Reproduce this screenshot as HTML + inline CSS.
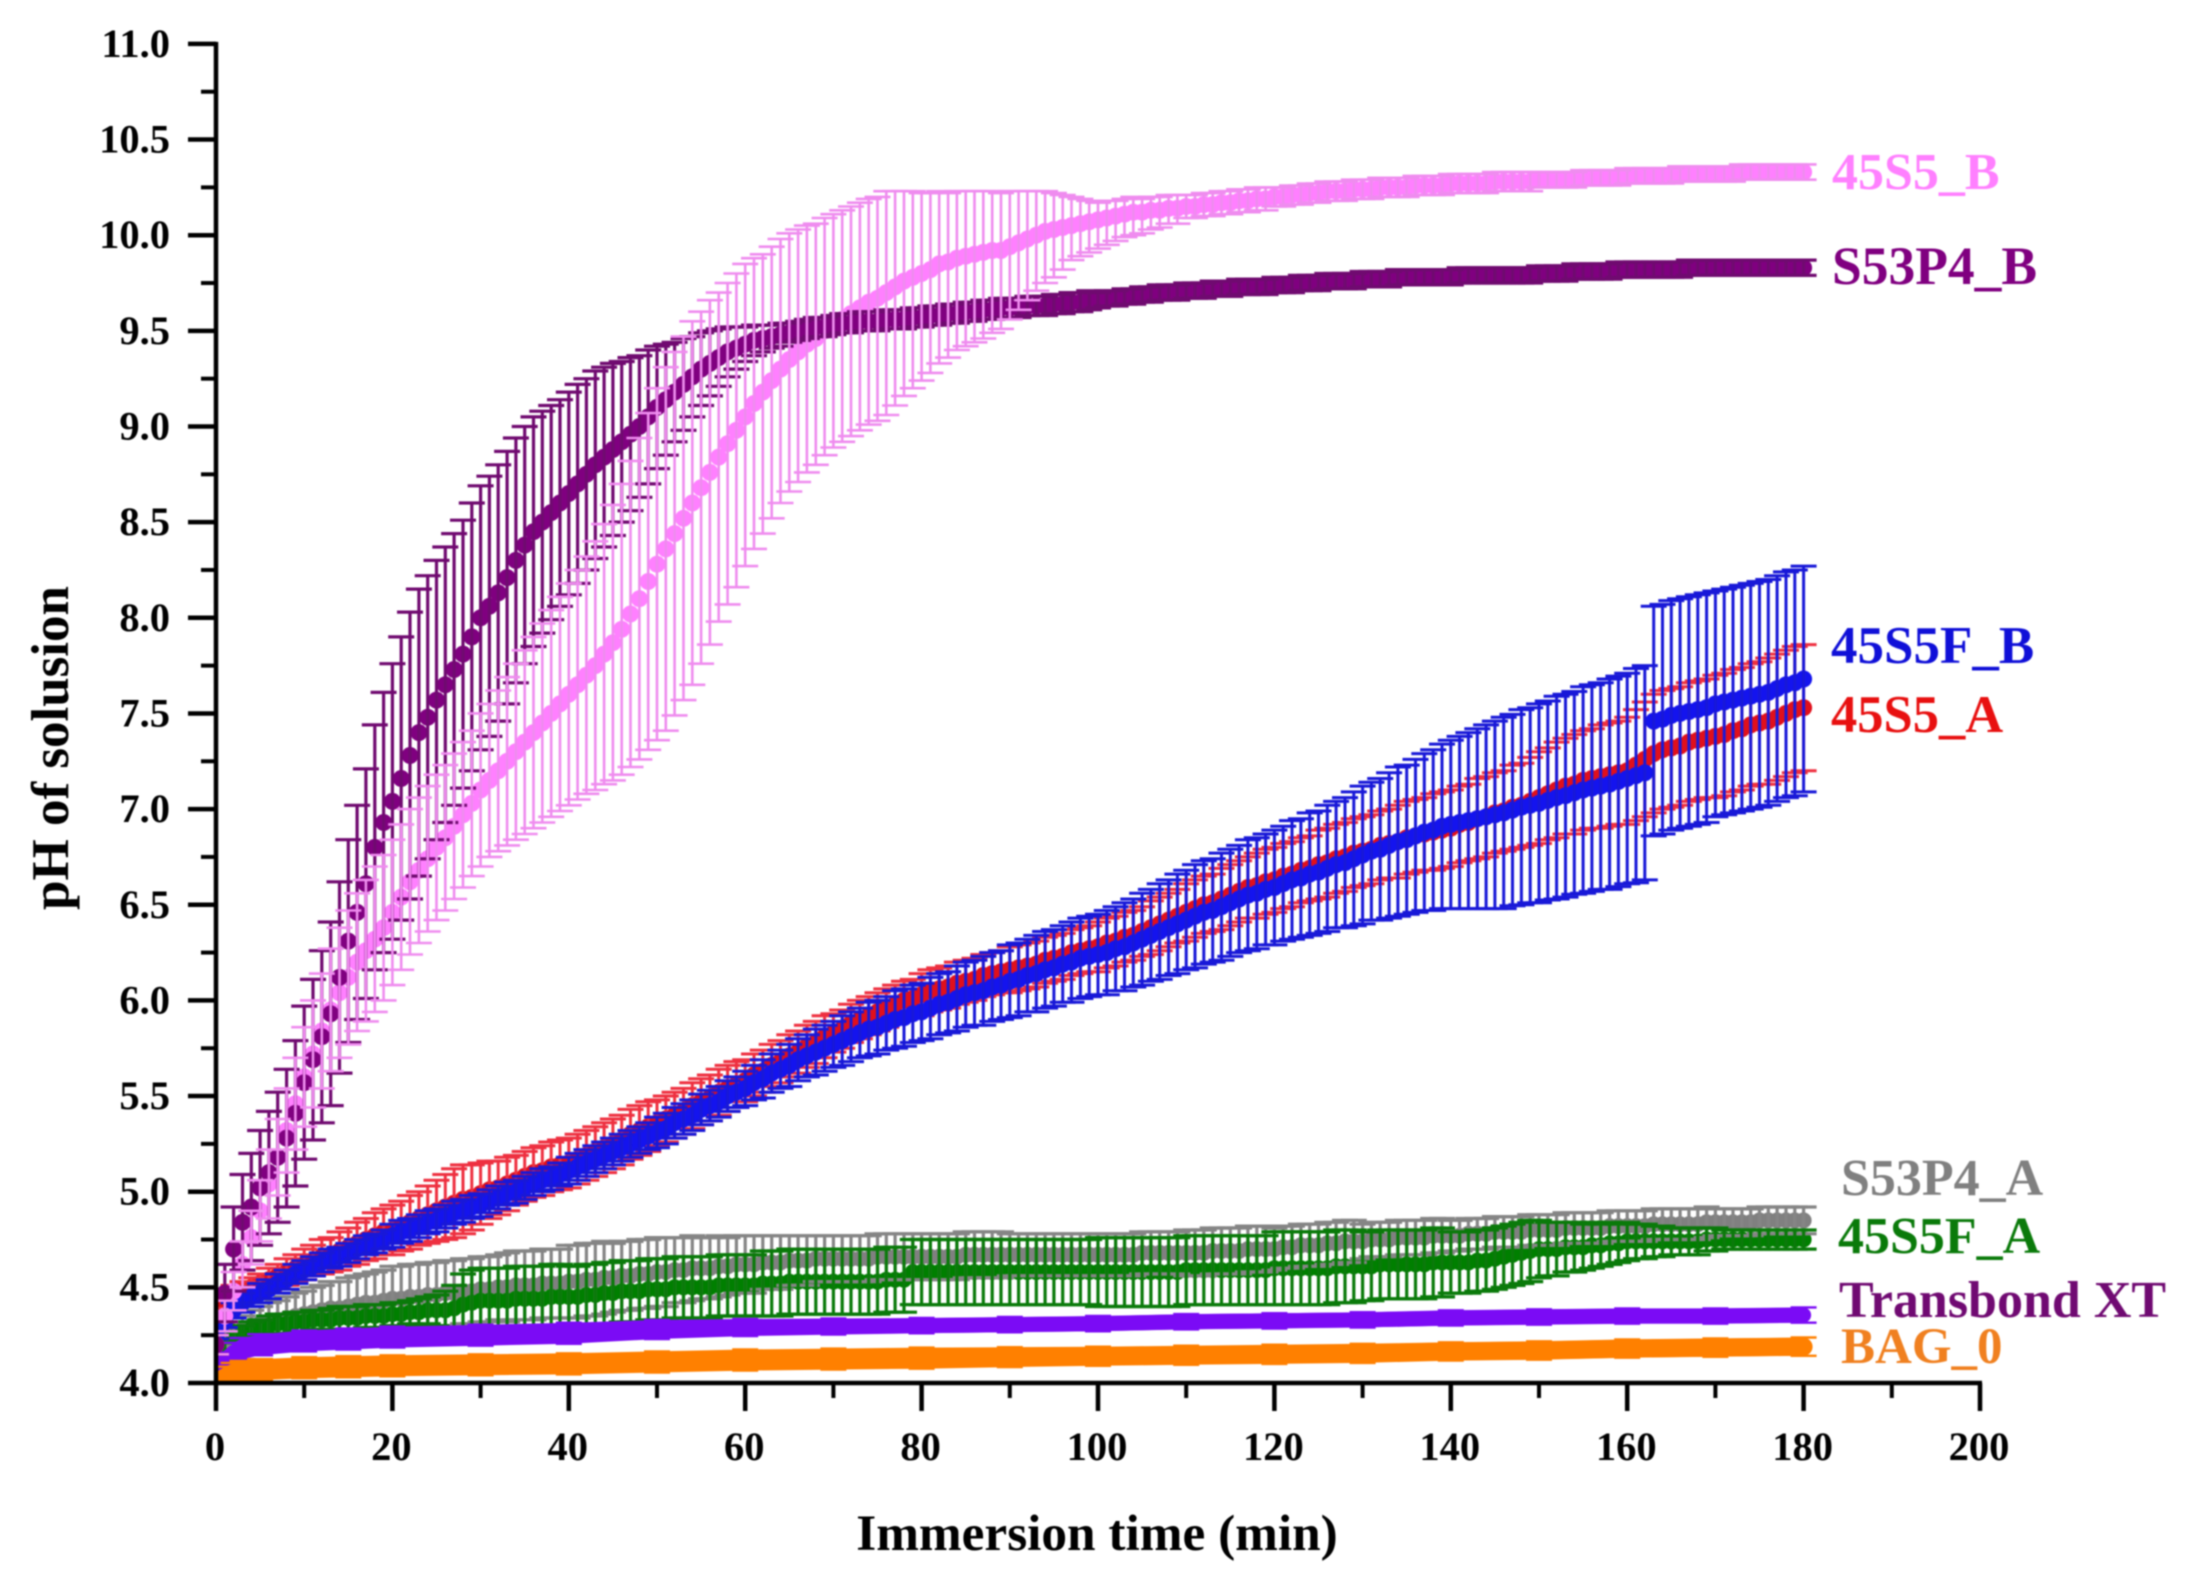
<!DOCTYPE html>
<html lang="en">
<head>
<meta charset="utf-8">
<title>pH of solution vs immersion time</title>
<style>
html,body{margin:0;padding:0;background:#fff;width:2185px;height:1577px;overflow:hidden}
svg{display:block;filter:blur(0.7px)}
text{font-family:"Liberation Serif",serif;font-weight:bold}
</style>
</head>
<body>
<svg id="chart" width="2185" height="1577" viewBox="0 0 2185 1577" xmlns="http://www.w3.org/2000/svg">
<defs><clipPath id="plot-clip"><rect x="216" y="0" width="1969" height="1383"/></clipPath></defs>
<rect width="2185" height="1577" fill="#fff"/>
<g id="plot" clip-path="url(#plot-clip)"></g>
<g id="axes"></g>
<text x="1097" y="1550" text-anchor="middle" font-size="51.3" fill="#000">Immersion time (min)</text>
<text transform="translate(68,748) rotate(-90)" text-anchor="middle" font-size="53" fill="#000">pH of solusion</text>
<text x="1832" y="189" font-size="52" fill="#ff80ff">45S5_B</text>
<text x="1832" y="284" font-size="53.5" fill="#800080">S53P4_B</text>
<text x="1831" y="663" font-size="53" fill="#1010d8">45S5F_B</text>
<text x="1831" y="732" font-size="52.5" fill="#e81010">45S5_A</text>
<text x="1841" y="1195" font-size="52" fill="#808080">S53P4_A</text>
<text x="1838" y="1253" font-size="52" fill="#0a7a0a">45S5F_A</text>
<text x="1839" y="1317" font-size="52" fill="#700a72">Transbond XT</text>
<text x="1841" y="1363" font-size="51" fill="#f08020">BAG_0</text>
</svg>
<script>
const minuteTimes = Array.from({length:181},(_,i)=>i);
const sparseTimes = [0,1,2,3,5,10,15,20,30,40,50,60,70,80,90,100,110,120,130,140,150,160,170,180];
const xTickLabels = [0,20,40,60,80,100,120,140,160,180,200];
const xMinorTicks = [10,30,50,70,90,110,130,150,170,190];
const yTickLabels = ["4.0","4.5","5.0","5.5","6.0","6.5","7.0","7.5","8.0","8.5","9.0","9.5","10.0","10.5","11.0"];
const yMinorTicks = [4.25,4.75,5.25,5.75,6.25,6.75,7.25,7.75,8.25,8.75,9.25,9.75,10.25,10.75];

const pinkMean = [4.20,4.35,4.48,4.62,4.76,4.90,5.04,5.18,5.32,5.46,
5.60,5.72,5.84,5.95,6.04,6.12,6.20,6.26,6.32,6.38,
6.46,6.54,6.62,6.68,6.74,6.80,6.85,6.91,6.97,7.03,
7.10,7.15,7.20,7.25,7.30,7.35,7.40,7.45,7.50,7.55,
7.60,7.65,7.70,7.75,7.81,7.87,7.94,8.02,8.10,8.19,
8.28,8.36,8.44,8.52,8.60,8.68,8.76,8.84,8.91,8.98,
9.05,9.12,9.18,9.24,9.30,9.35,9.39,9.43,9.46,9.50,
9.53,9.56,9.59,9.62,9.65,9.67,9.70,9.73,9.76,9.78,
9.80,9.82,9.85,9.86,9.88,9.89,9.90,9.91,9.92,9.92,
9.94,9.96,9.98,10.00,10.02,10.03,10.04,10.05,10.06,10.07,
10.08,10.09,10.10,10.11,10.12,10.12,10.13,10.13,10.14,10.14,
10.15,10.15,10.16,10.16,10.17,10.17,10.18,10.18,10.19,10.19,
10.20,10.20,10.21,10.21,10.22,10.22,10.23,10.23,10.23,10.24,
10.24,10.24,10.25,10.25,10.25,10.25,10.26,10.26,10.26,10.26,
10.27,10.27,10.27,10.27,10.27,10.28,10.28,10.28,10.28,10.28,
10.29,10.29,10.29,10.29,10.29,10.30,10.30,10.30,10.30,10.30,
10.31,10.31,10.31,10.31,10.31,10.31,10.32,10.32,10.32,10.32,
10.32,10.32,10.32,10.33,10.33,10.33,10.33,10.33,10.33,10.33,10.33];
const pinkErrUp = [.05,.08,.10,.12,.14,.16,.18,.20,.22,.24,
.26,.28,.30,.32,.34,.35,.36,.37,.38,.38,
.38,.38,.38,.38,.38,.38,.38,.38,.38,.38,
.40,.40,.42,.44,.46,.48,.50,.52,.54,.56,
.58,.60,.62,.65,.68,.72,.76,.80,.84,.88,
.92,.95,.95,.95,.95,.92,.90,.86,.84,.82,
.80,.76,.72,.70,.68,.66,.64,.62,.60,.59,
.58,.57,.56,.55,.54,.53,.53,.50,.47,.45,
.42,.40,.38,.36,.35,.34,.33,.32,.31,.30,
.29,.27,.25,.23,.21,.19,.17,.15,.13,.11,
.09,.09,.08,.08,.08,.07,.07,.07,.07,.07,
.06,.06,.06,.06,.06,.06,.06,.06,.06,.06,
.05,.05,.05,.05,.05,.05,.05,.05,.05,.05,
.05,.05,.05,.05,.05,.05,.05,.05,.05,.05,
.05,.05,.05,.05,.05,.05,.05,.05,.05,.05,
.04,.04,.04,.04,.04,.04,.04,.04,.04,.04,
.04,.04,.04,.04,.04,.04,.04,.04,.04,.04,
.04,.04,.04,.04,.04,.04,.04,.04,.04,.04,.04];
const pinkErrDownMiddle = [.78,.76,.74,.72,.70,.69,.68,.67,.66,.65,
.64,.64,.64,.64,.64,.64,.64,.62,.60,.58,
.56,.54,.52,.50,.48,.47,.46,.45,.43,.41,
.38,.35,.32,.29,.27,.25,.22,.18,.17,.16,
.15,.14,.13,.12,.12,.11,.10,.09,.08,.08];
const pinkErrDown = [...pinkErrUp.slice(0,60),...pinkErrDownMiddle,...pinkErrUp.slice(110)];

const purpleMean = [4.20,4.47,4.70,4.84,4.92,5.02,5.10,5.18,5.28,5.41,
5.57,5.69,5.81,5.93,6.12,6.31,6.46,6.61,6.80,6.93,
7.04,7.16,7.28,7.40,7.48,7.57,7.65,7.73,7.81,7.90,
8.00,8.06,8.13,8.21,8.30,8.38,8.45,8.50,8.55,8.60,
8.65,8.70,8.75,8.80,8.84,8.88,8.92,8.96,9.00,9.05,
9.10,9.14,9.18,9.22,9.26,9.30,9.33,9.36,9.39,9.41,
9.43,9.45,9.46,9.47,9.48,9.49,9.50,9.51,9.52,9.52,
9.53,9.54,9.54,9.55,9.55,9.55,9.56,9.56,9.56,9.57,
9.57,9.58,9.58,9.59,9.59,9.60,9.60,9.61,9.61,9.62,
9.62,9.62,9.63,9.63,9.63,9.64,9.64,9.65,9.65,9.66,
9.66,9.67,9.67,9.68,9.68,9.69,9.69,9.70,9.70,9.70,
9.71,9.71,9.71,9.72,9.72,9.72,9.73,9.73,9.73,9.73,
9.74,9.74,9.74,9.75,9.75,9.75,9.76,9.76,9.76,9.76,
9.77,9.77,9.77,9.77,9.78,9.78,9.78,9.78,9.78,9.78,
9.78,9.79,9.79,9.79,9.79,9.79,9.79,9.79,9.79,9.79,
9.80,9.80,9.80,9.80,9.81,9.81,9.81,9.81,9.81,9.82,
9.82,9.82,9.82,9.82,9.82,9.82,9.82,9.83,9.83,9.83,
9.83,9.83,9.83,9.83,9.83,9.83,9.83,9.83,9.83,9.83,9.83];
const purpleErr = [.05,.15,.22,.25,.28,.30,.32,.34,.36,.38,
.40,.42,.45,.48,.50,.53,.56,.60,.64,.68,
.72,.74,.75,.75,.74,.73,.72,.71,.70,.70,
.69,.68,.67,.66,.64,.62,.60,.58,.56,.54,
.53,.52,.50,.49,.47,.45,.42,.40,.37,.35,
.32,.29,.26,.24,.21,.19,.17,.15,.13,.11,
.09,.08,.07,.06,.06,.05,.05,.05,.05,.05,
.05,.05,.05,.05,.05,.05,.05,.05,.05,.05,
.05,.05,.05,.05,.05,.05,.05,.05,.05,.05,
.05,.05,.05,.05,.05,.05,.05,.05,.05,.05,
.04,.04,.04,.04,.04,.04,.04,.04,.04,.04,
.04,.04,.04,.04,.04,.04,.04,.04,.04,.04,
.04,.04,.04,.04,.04,.04,.04,.04,.04,.04,
.04,.04,.04,.04,.04,.04,.04,.04,.04,.04,
.04,.04,.04,.04,.04,.04,.04,.04,.04,.04,
.04,.04,.04,.04,.04,.04,.04,.04,.04,.04,
.04,.04,.04,.04,.04,.04,.04,.04,.04,.04,
.04,.04,.04,.04,.04,.04,.04,.04,.04,.04,.04];

const blueMean = [4.25,4.32,4.38,4.42,4.45,4.47,4.49,4.52,4.54,4.57,
4.59,4.61,4.63,4.65,4.66,4.68,4.70,4.72,4.73,4.75,
4.77,4.79,4.80,4.82,4.84,4.85,4.87,4.89,4.90,4.92,
4.93,4.95,4.97,4.99,5.00,5.02,5.04,5.06,5.07,5.09,
5.11,5.13,5.15,5.17,5.19,5.21,5.23,5.25,5.27,5.29,
5.31,5.33,5.36,5.38,5.40,5.43,5.45,5.47,5.50,5.52,
5.54,5.57,5.59,5.62,5.64,5.66,5.69,5.71,5.73,5.75,
5.77,5.79,5.81,5.83,5.85,5.86,5.88,5.90,5.91,5.93,
5.94,5.96,5.98,5.99,6.01,6.03,6.04,6.05,6.07,6.08,
6.10,6.11,6.13,6.14,6.16,6.17,6.19,6.20,6.22,6.23,
6.24,6.25,6.27,6.28,6.30,6.32,6.34,6.36,6.38,6.40,
6.42,6.44,6.46,6.47,6.49,6.51,6.53,6.55,6.56,6.58,
6.59,6.61,6.63,6.64,6.66,6.67,6.69,6.71,6.72,6.74,
6.76,6.78,6.79,6.81,6.83,6.84,6.86,6.88,6.89,6.91,
6.92,6.93,6.94,6.95,6.96,6.97,6.98,6.995,7.01,7.02,
7.03,7.045,7.06,7.07,7.085,7.10,7.11,7.12,7.13,7.145,
7.16,7.175,7.19,7.46,7.47,7.49,7.50,7.51,7.52,7.53,
7.55,7.56,7.57,7.58,7.59,7.60,7.61,7.63,7.65,7.66,7.68];
const blueErr = [.02,.03,.04,.05,.05,.05,.05,.05,.05,.05,
.05,.05,.05,.05,.05,.05,.05,.05,.05,.05,
.06,.06,.06,.06,.06,.06,.06,.06,.06,.06,
.06,.06,.06,.06,.06,.06,.06,.06,.06,.06,
.07,.07,.07,.07,.07,.07,.07,.07,.07,.07,
.08,.08,.08,.08,.08,.08,.08,.08,.08,.08,
.09,.09,.10,.10,.10,.11,.11,.11,.12,.12,
.12,.13,.13,.13,.14,.14,.14,.15,.15,.15,
.15,.16,.16,.16,.17,.17,.17,.18,.18,.18,
.19,.19,.19,.20,.20,.20,.20,.21,.21,.21,
.21,.22,.22,.23,.23,.24,.24,.25,.25,.26,
.26,.27,.27,.27,.28,.28,.28,.29,.29,.29,
.30,.30,.31,.31,.32,.32,.33,.33,.34,.35,
.36,.36,.37,.38,.39,.39,.40,.41,.42,.43,
.44,.45,.46,.47,.48,.49,.50,.50,.51,.51,
.52,.52,.53,.53,.53,.54,.54,.54,.55,.55,
.55,.56,.56,.60,.60,.60,.60,.60,.60,.60,
.59,.59,.59,.59,.59,.59,.59,.59,.59,.59,.59];

const redMean = [4.30,4.42,4.47,4.49,4.50,4.52,4.54,4.56,4.58,4.60,
4.62,4.64,4.66,4.67,4.69,4.71,4.73,4.75,4.77,4.79,
4.80,4.82,4.84,4.86,4.88,4.90,4.92,4.94,4.96,4.97,
4.99,5.01,5.02,5.04,5.06,5.08,5.10,5.11,5.13,5.14,
5.15,5.17,5.19,5.21,5.23,5.25,5.27,5.30,5.32,5.34,
5.36,5.38,5.40,5.42,5.45,5.47,5.49,5.52,5.54,5.56,
5.58,5.61,5.63,5.66,5.68,5.71,5.73,5.76,5.78,5.81,
5.83,5.85,5.88,5.90,5.92,5.94,5.96,5.98,6.00,6.01,
6.03,6.05,6.06,6.07,6.09,6.10,6.11,6.13,6.14,6.15,
6.16,6.17,6.18,6.19,6.21,6.22,6.23,6.25,6.26,6.27,
6.28,6.30,6.31,6.33,6.34,6.36,6.38,6.40,6.42,6.44,
6.46,6.48,6.50,6.51,6.53,6.55,6.57,6.59,6.60,6.62,
6.63,6.65,6.66,6.68,6.69,6.71,6.72,6.74,6.75,6.77,
6.78,6.79,6.81,6.82,6.83,6.85,6.86,6.87,6.88,6.89,
6.90,6.92,6.93,6.95,6.96,6.98,6.99,7.01,7.02,7.04,
7.06,7.08,7.10,7.12,7.13,7.15,7.16,7.17,7.18,7.19,
7.20,7.23,7.26,7.29,7.31,7.32,7.33,7.35,7.36,7.37,
7.38,7.39,7.41,7.42,7.44,7.45,7.46,7.48,7.50,7.52,7.53];
const redErr = [.02,.03,.04,.04,.05,.05,.06,.06,.07,.07,
.08,.08,.09,.09,.10,.10,.11,.11,.12,.12,
.13,.13,.14,.14,.15,.16,.17,.18,.18,.17,
.16,.15,.14,.14,.13,.13,.13,.13,.13,.13,
.13,.13,.13,.13,.13,.13,.13,.13,.13,.13,
.12,.12,.12,.12,.12,.12,.12,.12,.12,.12,
.11,.11,.11,.11,.11,.11,.11,.11,.11,.11,
.10,.10,.10,.10,.10,.10,.10,.10,.10,.10,
.11,.11,.11,.11,.11,.11,.11,.11,.11,.11,
.12,.12,.12,.12,.12,.12,.12,.12,.12,.12,
.13,.13,.13,.13,.13,.13,.14,.14,.14,.14,
.15,.15,.15,.15,.16,.16,.16,.16,.17,.17,
.17,.17,.17,.17,.17,.18,.18,.18,.18,.18,
.18,.18,.18,.18,.19,.19,.19,.19,.20,.20,
.20,.20,.20,.21,.21,.21,.21,.22,.22,.23,
.24,.24,.25,.25,.26,.26,.26,.27,.27,.27,
.28,.29,.30,.31,.31,.31,.31,.31,.31,.31,
.32,.32,.32,.32,.32,.32,.33,.33,.33,.33,.33];

const grayMean = [4.20,4.24,4.26,4.28,4.30,4.31,4.32,4.33,4.34,4.35,
4.36,4.37,4.38,4.39,4.39,4.40,4.41,4.42,4.42,4.43,
4.44,4.44,4.45,4.45,4.46,4.46,4.47,4.47,4.48,4.48,
4.49,4.49,4.50,4.50,4.51,4.51,4.51,4.52,4.52,4.52,
4.53,4.53,4.54,4.54,4.55,4.55,4.56,4.56,4.57,4.57,
4.58,4.58,4.59,4.59,4.60,4.60,4.60,4.61,4.61,4.62,
4.62,4.62,4.63,4.63,4.63,4.64,4.64,4.64,4.65,4.65,
4.65,4.65,4.65,4.65,4.65,4.66,4.66,4.66,4.66,4.66,
4.66,4.66,4.66,4.66,4.66,4.67,4.67,4.67,4.67,4.67,
4.67,4.67,4.67,4.67,4.67,4.67,4.67,4.67,4.67,4.67,
4.67,4.67,4.67,4.67,4.67,4.68,4.68,4.68,4.68,4.68,
4.68,4.68,4.68,4.69,4.69,4.69,4.69,4.70,4.70,4.70,
4.70,4.71,4.71,4.72,4.72,4.72,4.73,4.73,4.74,4.74,
4.74,4.75,4.75,4.75,4.76,4.76,4.76,4.76,4.77,4.77,
4.77,4.77,4.78,4.78,4.78,4.79,4.79,4.79,4.79,4.80,
4.80,4.80,4.80,4.81,4.81,4.81,4.81,4.81,4.82,4.82,
4.82,4.82,4.82,4.83,4.83,4.83,4.83,4.83,4.83,4.84,
4.84,4.84,4.84,4.84,4.84,4.85,4.85,4.85,4.85,4.85,4.85];
const grayErr = [.03,.05,.06,.07,.08,.09,.10,.10,.11,.12,
.12,.13,.13,.14,.14,.15,.15,.15,.16,.16,
.17,.17,.17,.17,.17,.17,.17,.17,.17,.17,
.17,.17,.17,.18,.18,.18,.18,.18,.18,.18,
.19,.19,.19,.19,.19,.18,.18,.18,.18,.18,
.18,.18,.17,.17,.17,.16,.16,.16,.15,.15,
.15,.15,.14,.14,.14,.13,.13,.13,.12,.12,
.12,.12,.12,.12,.12,.12,.12,.12,.12,.12,
.12,.12,.12,.12,.12,.12,.12,.12,.12,.12,
.11,.11,.11,.11,.11,.11,.11,.11,.11,.11,
.11,.11,.11,.11,.11,.11,.11,.11,.11,.11,
.12,.12,.12,.12,.12,.12,.12,.12,.12,.12,
.11,.11,.11,.11,.11,.11,.11,.11,.11,.11,
.09,.09,.09,.09,.09,.09,.09,.09,.09,.09,
.08,.08,.08,.08,.08,.08,.08,.08,.08,.08,
.08,.08,.08,.08,.08,.08,.08,.08,.08,.08,
.08,.08,.08,.08,.08,.08,.08,.08,.08,.08,
.07,.07,.07,.07,.07,.07,.07,.07,.07,.07,.07];

const greenMean = [4.15,4.20,4.24,4.26,4.28,4.29,4.30,4.31,4.31,4.32,
4.32,4.33,4.33,4.33,4.34,4.34,4.34,4.35,4.35,4.35,
4.36,4.36,4.37,4.37,4.38,4.38,4.38,4.39,4.41,4.42,
4.43,4.43,4.43,4.43,4.44,4.44,4.44,4.44,4.45,4.45,
4.45,4.45,4.46,4.46,4.47,4.47,4.48,4.48,4.48,4.49,
4.49,4.49,4.50,4.50,4.50,4.50,4.50,4.51,4.51,4.51,
4.51,4.51,4.52,4.52,4.52,4.53,4.53,4.53,4.53,4.53,
4.53,4.53,4.53,4.53,4.53,4.53,4.54,4.54,4.54,4.58,
4.58,4.58,4.58,4.58,4.58,4.58,4.58,4.58,4.58,4.58,
4.58,4.58,4.58,4.58,4.58,4.58,4.58,4.58,4.58,4.58,
4.58,4.58,4.58,4.58,4.58,4.58,4.58,4.58,4.58,4.58,
4.59,4.59,4.59,4.59,4.59,4.59,4.59,4.59,4.59,4.59,
4.60,4.60,4.60,4.60,4.60,4.60,4.60,4.61,4.61,4.61,
4.61,4.61,4.62,4.62,4.62,4.62,4.62,4.62,4.63,4.63,
4.63,4.63,4.63,4.64,4.64,4.65,4.66,4.67,4.68,4.69,
4.70,4.70,4.70,4.71,4.71,4.71,4.72,4.72,4.73,4.73,
4.74,4.74,4.74,4.74,4.74,4.74,4.74,4.74,4.74,4.75,
4.75,4.75,4.75,4.75,4.75,4.75,4.75,4.75,4.75,4.75,4.75];
const greenErr = [.02,.03,.03,.04,.04,.04,.05,.05,.05,.05,
.05,.05,.05,.06,.06,.06,.06,.06,.06,.06,
.06,.06,.06,.07,.07,.08,.10,.12,.16,.17,
.17,.17,.17,.17,.17,.17,.17,.17,.17,.17,
.16,.16,.16,.16,.16,.16,.16,.16,.16,.16,
.16,.16,.16,.16,.16,.16,.16,.16,.16,.16,
.16,.16,.17,.17,.17,.17,.17,.17,.17,.17,
.17,.17,.17,.17,.17,.17,.17,.17,.17,.17,
.17,.17,.17,.17,.17,.17,.17,.17,.17,.17,
.17,.17,.17,.17,.17,.17,.17,.17,.17,.17,
.18,.18,.18,.18,.18,.18,.18,.18,.18,.18,
.18,.18,.18,.18,.18,.18,.18,.18,.18,.18,
.19,.19,.19,.19,.19,.19,.19,.19,.19,.19,
.18,.18,.18,.18,.18,.18,.18,.18,.18,.18,
.16,.16,.16,.16,.16,.16,.16,.16,.16,.16,
.15,.14,.14,.13,.13,.12,.12,.11,.11,.10,
.10,.09,.09,.08,.08,.07,.07,.07,.07,.06,
.06,.05,.05,.05,.05,.05,.05,.05,.05,.05,.05];

const violetMean = [4.05,4.12,4.16,4.18,4.20,4.22,4.23,4.24,4.25,4.26,4.28,4.29,4.295,4.30,4.305,4.31,4.32,4.325,4.33,4.34,4.345,4.35,4.35,4.355];
const violetErr = [.03,.04,.05,.055,.055,.055,.055,.055,.055,.055,.05,.045,.042,.04,.04,.04,.04,.04,.04,.04,.04,.04,.04,.04];
const orangeMean = [4.00,4.03,4.05,4.06,4.07,4.08,4.085,4.09,4.095,4.10,4.11,4.12,4.125,4.13,4.135,4.14,4.145,4.15,4.155,4.165,4.17,4.18,4.185,4.19];
const orangeErr = [.055,.055,.055,.055,.055,.055,.055,.055,.055,.055,.055,.055,.055,.055,.052,.05,.05,.05,.05,.048,.048,.048,.048,.048];

const xScale = t => 216 + 8.82 * t;
const yScale = p => 1383 - 191.3 * (p - 4);
const SVGNS = 'http://www.w3.org/2000/svg';
const plot = document.getElementById('plot');
const axes = document.getElementById('axes');

const series = {
  pink:   {slug:'45s5-b',      times:minuteTimes, mean:pinkMean,   up:pinkErrUp, down:pinkErrDown, fill:'#ff80ff', err:'#ef8cef', sw:2.6, r:8.5},
  purple: {slug:'s53p4-b',     times:minuteTimes, mean:purpleMean, up:purpleErr, down:purpleErr,   fill:'#800080', err:'#700a70', sw:3.2, r:8.5},
  blue:   {slug:'45s5f-b',     times:minuteTimes, mean:blueMean,   up:blueErr,   down:blueErr,     fill:'#1414ee', err:'#1818d8', sw:3,   r:8.5},
  red:    {slug:'45s5-a',      times:minuteTimes, mean:redMean,    up:redErr,    down:redErr,      fill:'#e0101c', err:'#ee3040', sw:3,   r:8.5},
  gray:   {slug:'s53p4-a',     times:minuteTimes, mean:grayMean,   up:grayErr,   down:grayErr,     fill:'#808080', err:'#858585', sw:3.2, r:8},
  green:  {slug:'45s5f-a',     times:minuteTimes, mean:greenMean,  up:greenErr,  down:greenErr,    fill:'#007f00', err:'#0a7a0a', sw:3.2, r:8},
  violet: {slug:'transbond-xt',times:sparseTimes, mean:violetMean, up:violetErr, down:violetErr,   fill:'#7b0bf5', err:'#7b0bf5', sw:2.4, r:7.5},
  orange: {slug:'bag-0',       times:sparseTimes, mean:orangeMean, up:orangeErr, down:orangeErr,   fill:'#ff8000', err:'#ff8000', sw:2.4, r:9}
};

function drawMean(s){
  const g = document.createElementNS(SVGNS,'g');
  
  
  if(s.times === sparseTimes){
    const line = document.createElementNS(SVGNS,'polyline');
    
    
    line.setAttribute('points', s.mean.map((v,i)=>xScale(s.times[i]).toFixed(1)+','+yScale(v).toFixed(1)).join(' '));
    line.setAttribute('fill','none');
    line.setAttribute('stroke',s.fill);
    line.setAttribute('stroke-width',s.r*2);
    line.setAttribute('stroke-linejoin','round');
    g.appendChild(line);
  }
  s.mean.forEach((v,i)=>{
    const c = document.createElementNS(SVGNS,'circle');
    
    
    c.setAttribute('cx',xScale(s.times[i]).toFixed(1));
    c.setAttribute('cy',yScale(v).toFixed(1));
    c.setAttribute('r',s.r);
    c.setAttribute('fill',s.fill);
    g.appendChild(c);
  });
  plot.appendChild(g);
}

function drawErr(s){
  const g = document.createElementNS(SVGNS,'g');
  
  
  if(s.times === sparseTimes){
    const band = document.createElementNS(SVGNS,'polygon');
    
    
    const upper = s.mean.map((v,i)=>xScale(s.times[i]).toFixed(1)+','+yScale(v+s.up[i]).toFixed(1));
    const lower = s.mean.map((v,i)=>xScale(s.times[i]).toFixed(1)+','+yScale(v-s.down[i]).toFixed(1)).reverse();
    band.setAttribute('points',upper.concat(lower).join(' '));
    band.setAttribute('fill',s.err);
    g.appendChild(band);
  }
  s.mean.forEach((v,i)=>{
    const x = xScale(s.times[i]);
    const yTop = yScale(v + s.up[i]);
    const yBot = yScale(v - s.down[i]);
    const p = document.createElementNS(SVGNS,'path');
    
    
    p.setAttribute('d','M'+x.toFixed(1)+' '+yTop.toFixed(1)+'V'+yBot.toFixed(1)+
      'M'+(x-13).toFixed(1)+' '+yTop.toFixed(1)+'h26M'+(x-13).toFixed(1)+' '+yBot.toFixed(1)+'h26');
    p.setAttribute('fill','none');
    p.setAttribute('stroke',s.err);
    p.setAttribute('stroke-width',s.sw);
    g.appendChild(p);
  });
  plot.appendChild(g);
}

drawMean(series.gray);
drawMean(series.green);
drawErr(series.gray);
drawErr(series.green);
drawMean(series.red);
drawErr(series.red);
drawMean(series.blue);
drawErr(series.blue);
drawMean(series.violet);
drawErr(series.violet);
drawMean(series.orange);
drawErr(series.orange);
drawMean(series.pink);
drawMean(series.purple);
drawErr(series.purple);
drawErr(series.pink);

function addLine(x1,y1,x2,y2,name,w){
  const l = document.createElementNS(SVGNS,'line');
  
  
  l.setAttribute('x1',x1);l.setAttribute('y1',y1);l.setAttribute('x2',x2);l.setAttribute('y2',y2);
  l.setAttribute('stroke','#000');
  l.setAttribute('stroke-width',w);
  axes.appendChild(l);
}
function addText(x,y,str,anchor,name){
  const t = document.createElementNS(SVGNS,'text');
  
  
  t.setAttribute('x',x);t.setAttribute('y',y);
  t.setAttribute('text-anchor',anchor);
  t.setAttribute('font-size','40.5');
  t.setAttribute('fill','#000');
  t.textContent = str;
  axes.appendChild(t);
}
addLine(216,yScale(11)-2,216,yScale(4)+2,'y-axis-line',4.5);
addLine(214,yScale(4),xScale(200)+2,yScale(4),'x-axis-line',4.5);
xTickLabels.forEach(v=>{
  addLine(xScale(v),yScale(4),xScale(v),yScale(4)+28,'x-major-tick',4.5);
  addText(xScale(v)-1,1460,String(v),'middle','x-tick-label');
});
xMinorTicks.forEach(v=>addLine(xScale(v),yScale(4),xScale(v),yScale(4)+15,'x-minor-tick',4));
yTickLabels.forEach(v=>{
  const p = parseFloat(v);
  addLine(188,yScale(p),216,yScale(p),'y-major-tick',4.5);
  addText(170,yScale(p)+13,v,'end','y-tick-label');
});
yMinorTicks.forEach(v=>addLine(201,yScale(v),216,yScale(v),'y-minor-tick',4));
</script>
</body>
</html>
